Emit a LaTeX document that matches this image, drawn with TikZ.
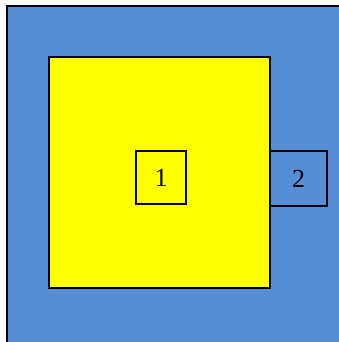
\documentclass[tikz,border=0pt]{standalone}
\usepackage{fontspec}
\setmainfont{Liberation Serif}
\definecolor{bgblue}{RGB}{85,142,213}
\definecolor{pureyellow}{RGB}{255,255,0}
\begin{document}
\begin{tikzpicture}[x=1pt,y=1pt,
  box/.style={draw=black,line width=1.3pt},
  lbl/.style={font=\fontsize{26}{30}\selectfont}]
\useasboundingbox (0,0) rectangle (339,342);
\clip (0,0) rectangle (339,342);
\path[box,fill=bgblue] (7,-5) rectangle (345,336);
\path[box,fill=pureyellow] (49,54) rectangle (270,285);
\node[box,fill=pureyellow,minimum width=50pt,minimum height=53pt,inner sep=0pt,lbl] (n1) at (161,164.5) {1};
\node[box,fill=bgblue,minimum width=57pt,minimum height=55pt,inner sep=0pt,lbl] (n2) at (298.5,163.5) {2};
\end{tikzpicture}
\end{document}
